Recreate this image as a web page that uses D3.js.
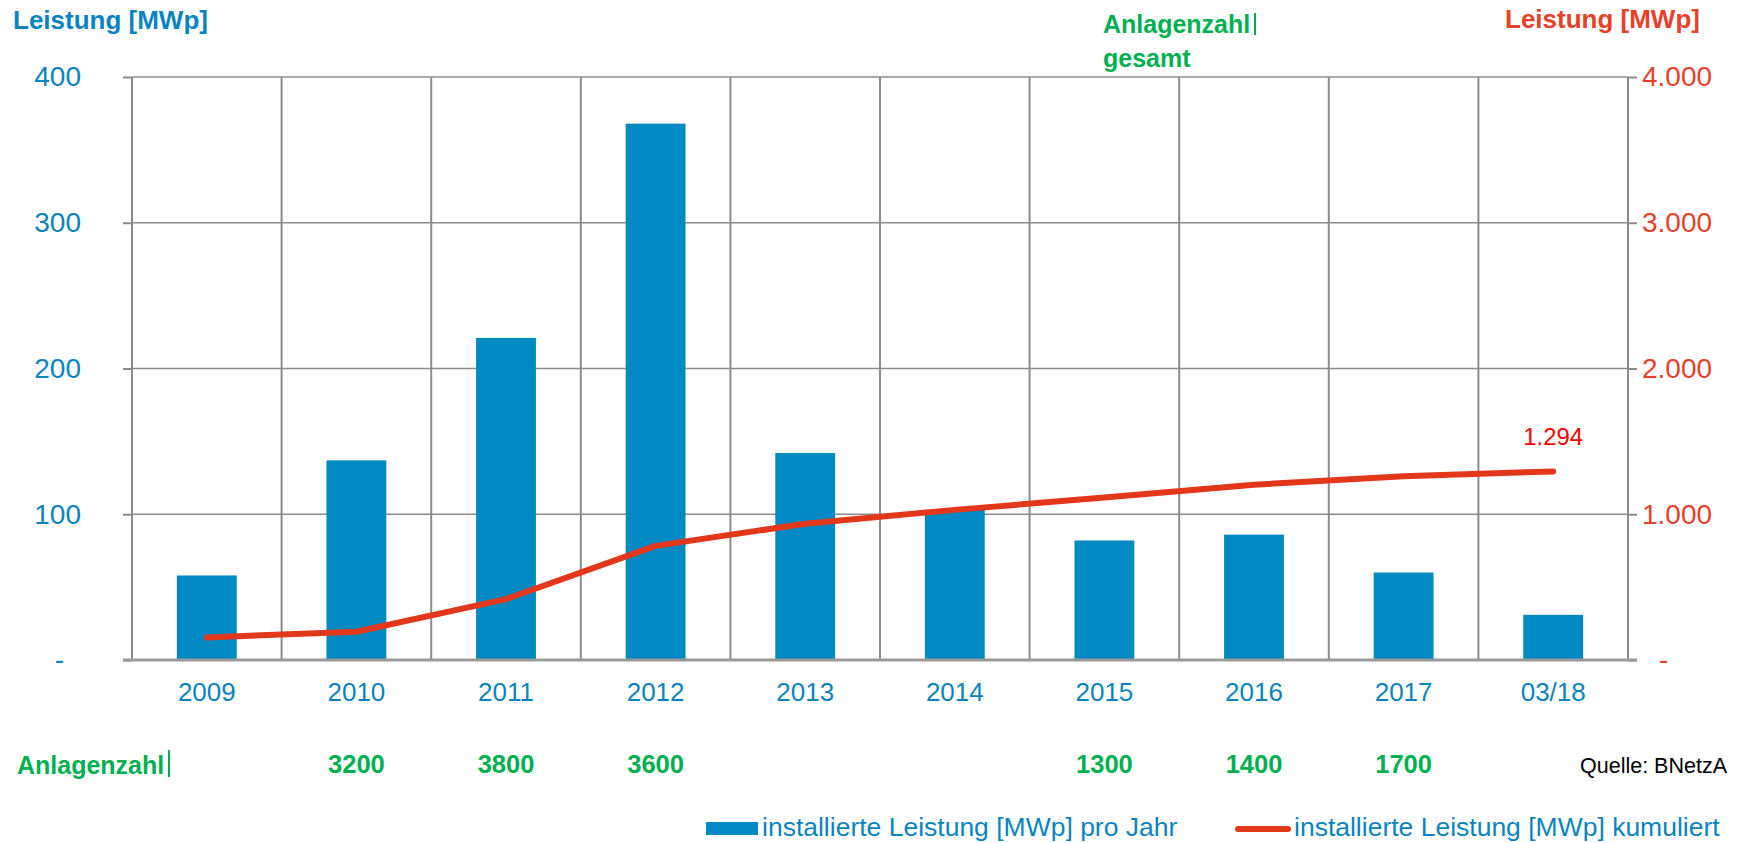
<!DOCTYPE html>
<html>
<head>
<meta charset="utf-8">
<script src="https://cdn.jsdelivr.net/npm/d3@7"></script>
<style>
  html, body { margin: 0; padding: 0; background: #ffffff; }
  svg { display: block; font-family: "Liberation Sans", Arial, sans-serif; }
</style>
</head>
<body>
<svg id="chart" width="1740" height="843"></svg>
<script>
// ---- data ----
const categories = ["2009", "2010", "2011", "2012", "2013", "2014", "2015", "2016", "2017", "03/18"];
const perYear = [58, 137, 221, 368, 142, 103, 82, 86, 60, 31];          // MWp pro Jahr (left axis)
const cumulative = [155, 194, 418, 783, 935, 1030, 1115, 1203, 1260, 1294]; // MWp kumuliert (right axis)
const anlagenzahl = [null, 3200, 3800, 3600, null, null, 1300, 1400, 1700, null];
const leftTicks = [0, 100, 200, 300, 400];
const rightTicks = [0, 1000, 2000, 3000, 4000];
const lastLabel = "1.294";
const legendLabels = ["installierte Leistung [MWp] pro Jahr", "installierte Leistung [MWp] kumuliert"];

// ---- styles ----
const BLUE = "#0089c2", BLUE_TXT = "#0a84c0", RED = "#e2371b", RED_TXT = "#e8412a", GREEN = "#00b050", GRID = "#8c8c8c";

const svg = d3.select("#chart");
const L = 132, R = 1628, T = 77, B = 660;

const x = d3.scaleBand().domain(categories).range([L, R]).paddingInner(0.6).paddingOuter(0.3);
const step = x.step();
const y = d3.scaleLinear().domain([0, 400]).range([B, T]);
const y2 = d3.scaleLinear().domain([0, 4000]).range([B, T]);

// horizontal gridlines
svg.append("g").selectAll("line").data(leftTicks.filter(d => d > 0)).join("line")
  .attr("x1", L).attr("x2", R).attr("y1", d => y(d)).attr("y2", d => y(d))
  .attr("stroke", GRID).attr("stroke-width", 1.5);

// vertical gridlines at category boundaries
const bounds = categories.map((c, i) => L + i * step).concat([R]);
svg.append("g").selectAll("line").data(bounds).join("line")
  .attr("x1", d => d).attr("x2", d => d).attr("y1", T).attr("y2", B)
  .attr("stroke", GRID).attr("stroke-width", 2);

// left axis
const gL = svg.append("g").attr("transform", `translate(${L},0)`)
  .call(d3.axisLeft(y).tickValues(leftTicks).tickSize(9).tickPadding(42)
    .tickFormat(d => d === 0 ? "-" : d));
gL.select(".domain").remove();
gL.selectAll(".tick line").attr("stroke", GRID).attr("stroke-width", 2);
gL.selectAll(".tick text").attr("fill", BLUE_TXT).attr("font-size", 28)
  .attr("font-family", "Liberation Sans, Arial, sans-serif")
  .attr("dx", d => d === 0 ? -17 : 0);

// right axis
const fmtDE = d => d === 0 ? "-" : d3.format(",")(d).replace(/,/g, ".");
const gR = svg.append("g").attr("transform", `translate(${R},0)`)
  .call(d3.axisRight(y2).tickValues(rightTicks).tickSize(9).tickPadding(5).tickFormat(fmtDE));
gR.select(".domain").remove();
gR.selectAll(".tick line").attr("stroke", GRID).attr("stroke-width", 2);
gR.selectAll(".tick text").attr("fill", RED_TXT).attr("font-size", 28)
  .attr("font-family", "Liberation Sans, Arial, sans-serif")
  .attr("dx", d => d === 0 ? 17 : 0);

// bars
svg.append("g").selectAll("rect").data(perYear).join("rect")
  .attr("x", (d, i) => x(categories[i]))
  .attr("width", x.bandwidth())
  .attr("y", d => y(d))
  .attr("height", d => B - y(d))
  .attr("fill", BLUE);

// baseline
svg.append("line").attr("x1", L - 9).attr("x2", R + 9).attr("y1", B).attr("y2", B)
  .attr("stroke", "#9a9a9a").attr("stroke-width", 3);

// bottom axis labels
const gB = svg.append("g").attr("transform", `translate(0,${B})`)
  .call(d3.axisBottom(x).tickSize(0).tickPadding(22.5));
gB.select(".domain").remove();
gB.selectAll(".tick text").attr("fill", BLUE_TXT).attr("font-size", 26)
  .attr("font-family", "Liberation Sans, Arial, sans-serif");

// cumulative line
const line = d3.line().x((d, i) => x(categories[i]) + x.bandwidth() / 2).y(d => y2(d));
svg.append("path").datum(cumulative).attr("d", line)
  .attr("fill", "none").attr("stroke", RED).attr("stroke-width", 6)
  .attr("stroke-linecap", "round").attr("stroke-linejoin", "round");

// last value label
const li = cumulative.length - 1;
svg.append("text").attr("x", x(categories[li]) + x.bandwidth() / 2).attr("y", 445)
  .attr("text-anchor", "middle").attr("fill", "#ff0000").attr("font-size", 24).text(lastLabel);

// axis titles
svg.append("text").attr("x", 13).attr("y", 29).attr("fill", BLUE_TXT)
  .attr("font-size", 26).attr("font-weight", "bold").text("Leistung [MWp]");
svg.append("text").attr("x", 1505).attr("y", 28).attr("fill", RED_TXT)
  .attr("font-size", 26).attr("font-weight", "bold").text("Leistung [MWp]");
svg.append("text").attr("x", 1103).attr("y", 33).attr("fill", GREEN)
  .attr("font-size", 25).attr("font-weight", "bold").text("Anlagenzahl");
svg.append("line").attr("x1", 1255).attr("x2", 1255).attr("y1", 13).attr("y2", 35)
  .attr("stroke", GREEN).attr("stroke-width", 2);
svg.append("text").attr("x", 1103).attr("y", 67).attr("fill", GREEN)
  .attr("font-size", 25).attr("font-weight", "bold").text("gesamt");

// Anlagenzahl row
svg.append("text").attr("x", 17).attr("y", 774).attr("fill", GREEN)
  .attr("font-size", 25).attr("font-weight", "bold").text("Anlagenzahl");
svg.append("line").attr("x1", 169).attr("x2", 169).attr("y1", 750).attr("y2", 777)
  .attr("stroke", GREEN).attr("stroke-width", 2);
svg.append("g").selectAll("text").data(anlagenzahl.map((v, i) => ({ v, c: categories[i] })).filter(d => d.v !== null))
  .join("text")
  .attr("x", d => x(d.c) + x.bandwidth() / 2).attr("y", 773)
  .attr("text-anchor", "middle").attr("fill", GREEN)
  .attr("font-size", 25.5).attr("font-weight", "bold").text(d => d.v);

// source
svg.append("text").attr("x", 1727).attr("y", 773).attr("text-anchor", "end")
  .attr("fill", "#000").attr("font-size", 21.5).text("Quelle: BNetzA");

// legend
svg.append("rect").attr("x", 706).attr("y", 822).attr("width", 52).attr("height", 13).attr("fill", BLUE);
svg.append("text").attr("x", 762).attr("y", 836).attr("fill", BLUE_TXT).attr("font-size", 26.5).text(legendLabels[0]);
svg.append("line").attr("x1", 1238).attr("x2", 1288).attr("y1", 829).attr("y2", 829)
  .attr("stroke", RED).attr("stroke-width", 6).attr("stroke-linecap", "round");
svg.append("text").attr("x", 1294).attr("y", 836).attr("fill", BLUE_TXT).attr("font-size", 26.5).text(legendLabels[1]);
</script>
</body>
</html>
